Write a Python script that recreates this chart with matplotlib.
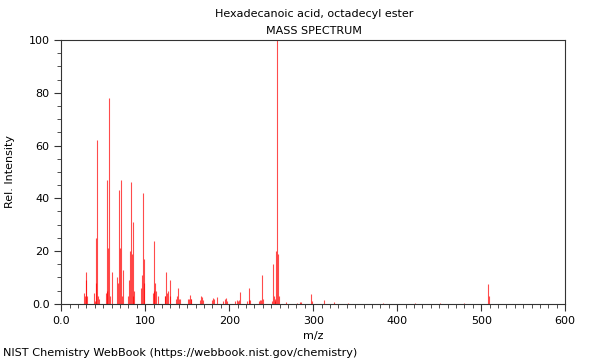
import matplotlib
matplotlib.use("Agg")
import matplotlib.pyplot as plt
from matplotlib.ticker import MultipleLocator, FixedLocator, FixedFormatter

# Mass spectrum peaks (m/z, relative intensity)
mz = [27, 28, 29, 30, 31, 39, 40, 41, 42, 43, 44, 45, 53, 54, 55, 56, 57, 58,
      61, 67, 68, 69, 70, 71, 72, 73, 79, 81, 82, 83, 84, 85, 86, 87,
      95, 96, 97, 98, 99, 109, 110, 111, 112, 113, 115,
      123, 124, 125, 126, 127, 129, 130, 137, 138, 139, 140, 141,
      151, 152, 153, 154, 155, 165, 167, 168, 169, 179, 181, 182, 185,
      193, 195, 196, 197, 207, 209, 210, 212, 213, 221, 223, 224, 225,
      235, 237, 238, 239, 240, 251, 252, 253, 254, 255, 256, 257, 258, 259,
      268, 281, 284, 285, 297, 298, 313, 325, 341, 383, 421, 451, 480, 508, 509]
intensity = [4, 3, 12, 9, 3, 4, 1, 25, 8, 62, 3, 2, 4, 5, 47, 21, 78, 3,
             12, 10, 8, 43, 21, 47, 3, 13, 3, 9, 20, 46, 19, 31, 3, 5,
             6, 11, 42, 17, 8, 4, 5, 24, 8, 5, 3,
             3, 3, 12, 4, 5, 9, 3, 2, 3, 6, 2, 2,
             2, 2, 3.5, 2, 2, 1.5, 3, 2.5, 1.5, 1.5, 2.2, 2, 2.5,
             1.2, 2, 2.3, 1, 1, 1.5, 1.2, 1.5, 4.5, 1, 1.5, 6, 1.5,
             1, 1.5, 1.5, 11, 2, 1, 15, 3, 1, 2, 20, 100, 19, 3,
             0.7, 0.5, 0.7, 0.8, 3.8, 1, 1.5, 0.6, 0.4, 0.4, 0.3, 0.3, 0.3, 7.5, 3]

title = "Hexadecanoic acid, octadecyl ester"
subtitle = "MASS SPECTRUM"
footer = "NIST Chemistry WebBook (https://webbook.nist.gov/chemistry)"

x_ticks = [0, 100, 200, 300, 400, 500, 600]
x_labels = ["0.0", "100", "200", "300", "400", "500", "600"]
y_ticks = [0, 20, 40, 60, 80, 100]
y_labels = ["0.0", "20", "40", "60", "80", "100"]

plt.rcParams["font.family"] = "DejaVu Sans"
plt.rcParams["font.size"] = 8

fig = plt.figure(figsize=(6, 3.6), dpi=100)
ax = fig.add_axes([0.102, 0.156, 0.840, 0.733])

ax.vlines(mz, 0, intensity, color="#ff0000", linewidth=0.8, alpha=0.7)

ax.set_xlim(0, 600)
ax.set_ylim(0, 100)
ax.xaxis.set_major_locator(FixedLocator(x_ticks))
ax.xaxis.set_major_formatter(FixedFormatter(x_labels))
ax.yaxis.set_major_locator(FixedLocator(y_ticks))
ax.yaxis.set_major_formatter(FixedFormatter(y_labels))
ax.xaxis.set_minor_locator(MultipleLocator(10))
ax.yaxis.set_minor_locator(MultipleLocator(5))
ax.tick_params(which="major", length=5, width=0.8, color="#333333", labelsize=8)
ax.tick_params(which="minor", length=3, width=0.6, color="#333333")
for s in ax.spines.values():
    s.set_color("#333333")
    s.set_linewidth(0.8)

ax.set_xlabel("m/z", fontsize=8)
ax.set_ylabel("Rel. Intensity", fontsize=8, labelpad=10)

fig.text(0.523, 0.962, title, ha="center", va="center", fontsize=8)
fig.text(0.523, 0.915, subtitle, ha="center", va="center", fontsize=8)
fig.text(0.005, 0.02, footer, ha="left", va="center", fontsize=8.15)

fig.savefig("out.png", dpi=100)
